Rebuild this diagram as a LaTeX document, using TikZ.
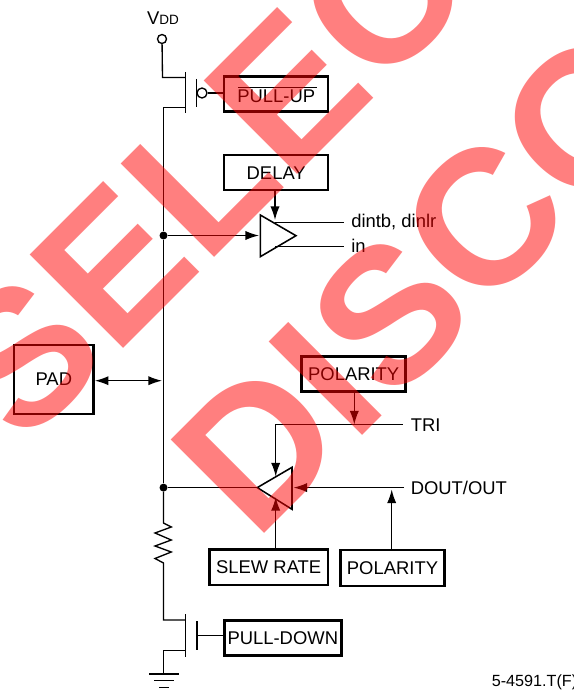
\documentclass[tikz,border=0pt]{standalone}
\usepackage{fontspec}
\usetikzlibrary{arrows.meta}
\setmainfont{Liberation Sans}

\tikzset{
  >={Latex[length=0.34cm,width=0.23cm]},
  wire/.style={line width=0.95pt},
  labelbox/.style={draw=black,line width=1.8pt,inner sep=0pt,font=\fontsize{13.1}{15}\selectfont},
  pinlabel/.style={inner sep=0pt,anchor=west,font=\fontsize{13.1}{15}\selectfont},
  junction/.style={circle,fill=black,minimum size=0.2cm,inner sep=0pt},
  hollowpin/.style={circle,draw=black,line width=0.95pt,fill=white,inner sep=0pt},
  watermark/.style={inner sep=0pt,anchor=base west,rotate=45,text=red,text opacity=0.5,font=\fontsize{136.6}{140}\bfseries\selectfont}
}

\begin{document}
\begin{tikzpicture}[x=0.025cm,y=-0.025cm]
      \useasboundingbox (0,0) rectangle (573,690);

      % boxes
      \node[labelbox,minimum width=2.6cm,minimum height=0.875cm] (pullup) at (276.2,94){\raisebox{-1.5pt}[\height][\depth]{PULL-UP}};
      \node[labelbox,minimum width=2.6cm,minimum height=0.875cm] (delay) at (276.2,172.5){\raisebox{-0.7pt}[\height][\depth]{DELAY}};
      \node[labelbox,minimum width=1.99cm,minimum height=1.725cm] (pad) at (53.8,379.5){PAD};
      \node[labelbox,minimum width=2.6cm,minimum height=0.875cm] (polaritytop) at (353.7,374){POLARITY};
      \node[labelbox,minimum width=2.97cm,minimum height=0.89cm] (slew) at (268.7,567.2){SLEW RATE};
      \node[labelbox,minimum width=2.6cm,minimum height=0.89cm] (polaritybot) at (392.5,568){POLARITY};
      \node[labelbox,minimum width=2.925cm,minimum height=0.875cm] (pulldown) at (282.8,637.8){PULL-DOWN};

      % text
      \node[inner sep=0pt,font=\fontsize{13.1}{15}\selectfont] (vddlabel) at (163,18){V{\fontsize{9.6}{12}\selectfont DD}};
      \node[pinlabel] (dintb) at (351,222){dintb, dinlr};
      \node[pinlabel] (inlabel) at (351,246){in};
      \node[pinlabel] (tri) at (410.5,425){TRI};
      \node[pinlabel] (dout) at (410.5,487.5){DOUT/OUT};
      \node[pinlabel,font=\fontsize{11.5}{13}\selectfont] (partno) at (491.5,682){5-4591.T(F)};

      % points on the rail
      \node[hollowpin,minimum size=0.225cm] (vdd) at (162,39){};
      \node[junction] (dota) at (163.5,235.5){};
      \node[junction] (dotb) at (163.5,487.6){};
      \coordinate (padrail) at (162,380.7);
      \coordinate (upa) at (162.5,77.5);
      \coordinate (upb) at (185,77.5);
      \coordinate (upc) at (185,107.5);
      \coordinate (upd) at (163.5,107.5);
      \coordinate (downa) at (163.5,620);
      \coordinate (downb) at (185,620);
      \coordinate (downc) at (185,650.5);
      \coordinate (downd) at (163.5,650.5);
      \coordinate (gnd) at (163.5,674);

      % pull-up
      \node[hollowpin,minimum size=0.25cm] (bubble) at (202,93){};
      \coordinate (upbara) at (185.3,72);
      \coordinate (upbarb) at (185.3,113);
      \coordinate (upgatea) at (196.7,79);
      \coordinate (upgateb) at (196.7,107);
      \coordinate (overa) at (238,87.5);
      \coordinate (overb) at (316.7,87.5);
      \draw[wire] (vdd) -- (upa) -- (upb);
      \draw[wire] (upbara) -- (upbarb);
      \draw[wire] (upgatea) -- (upgateb);
      \draw[wire] (bubble) -- (bubble -| pullup.west);
      \draw[wire] (overa) -- (overb);

      % rail
      \coordinate (resa) at (163.5,523);
      \coordinate (resb) at (171.3,527);
      \coordinate (resc) at (155,533);
      \coordinate (resd) at (171.3,540);
      \coordinate (rese) at (155,546);
      \coordinate (resf) at (171.3,552);
      \coordinate (resg) at (155,558.5);
      \coordinate (resh) at (163.5,563);
      \draw[wire] (upb |- upc) -- (upd) -- (dota);
      \draw[wire] (dota) -- (dotb);
      \draw[wire] (dotb) -- (resa) -- (resb) -- (resc) -- (resd) -- (rese) -- (resf) -- (resg) -- (resh) -- (downa) -- (downb);

      % pull-down
      \coordinate (downbara) at (185.3,614);
      \coordinate (downbarb) at (185.3,656.7);
      \coordinate (downgatea) at (197,621);
      \coordinate (downgateb) at (197,650);
      \coordinate (downgate) at (197,635.7);
      \draw[wire] (downbara) -- (downbarb);
      \draw[wire] (downgatea) -- (downgateb);
      \draw[wire] (downgate) -- (downgate -| pulldown.west);
      \draw[wire] (downc) -- (downd) -- (gnd);

      % ground
      \coordinate (gnda) at (149.3,674);
      \coordinate (gndb) at (178.7,674);
      \coordinate (gndc) at (154,680.7);
      \coordinate (gndd) at (174,680.7);
      \coordinate (gnde) at (159,687.3);
      \coordinate (gndf) at (169,687.3);
      \draw[wire,line width=1.1pt] (gnda) -- (gndb);
      \draw[wire,line width=1.1pt] (gndc) -- (gndd);
      \draw[wire,line width=1.1pt] (gnde) -- (gndf);

      % input buffer
      \coordinate (ina) at (260.3,215);
      \coordinate (inb) at (260.3,256.7);
      \coordinate (inc) at (296,235.7);
      \coordinate (intip) at (259,235.5);
      \coordinate (indelay) at (275,220);
      \coordinate (outa) at (275,222.5);
      \coordinate (outb) at (344,222.5);
      \coordinate (outc) at (275,246.5);
      \coordinate (outd) at (344,246.5);
      \draw[wire,line width=1.1pt] (ina) -- (inb) -- (inc) -- cycle;
      \draw[wire,->] (dota) -- (intip);
      \draw[wire,->] (delay.south -| indelay) -- (indelay);
      \draw[wire] (outa) -- (outb);
      \draw[wire] (outc) -- (outd);

      % pad
      \draw[wire,<->] (pad.east |- padrail) -- (padrail);

      % output buffer
      \coordinate (triga) at (257.3,487.6);
      \coordinate (trigb) at (292,467.3);
      \coordinate (trigc) at (292,509.3);
      \coordinate (lineb) at (275.7,424.5);
      \coordinate (linec) at (402.7,424.5);
      \coordinate (enable) at (275.7,476.5);
      \coordinate (poltri) at (354.3,424.5);
      \coordinate (dataend) at (404,487.6);
      \coordinate (datatip) at (293.5,487.6);
      \coordinate (poldata) at (391.7,489.5);
      \coordinate (slewtip) at (275.7,497);
      \draw[wire,line width=1.1pt] (triga) -- (trigb) -- (trigc) -- cycle;
      \draw[wire] (dotb) -- (triga);
      \draw[wire,->] (polaritytop.south -| poltri) -- (poltri);
      \draw[wire,<-] (enable) -- (lineb) -- (linec);
      \draw[wire,->] (dataend) -- (datatip);
      \draw[wire,->] (polaritybot.north -| poldata) -- (poldata);
      \draw[wire,->] (slew.north -| slewtip) -- (slewtip);

      % stamp across the page
      \node[watermark] (selec) at (23.8,448.2){SELEC};
      \node[watermark] (disco) at (255,542.6){DISCO};
\end{tikzpicture}
\end{document}
